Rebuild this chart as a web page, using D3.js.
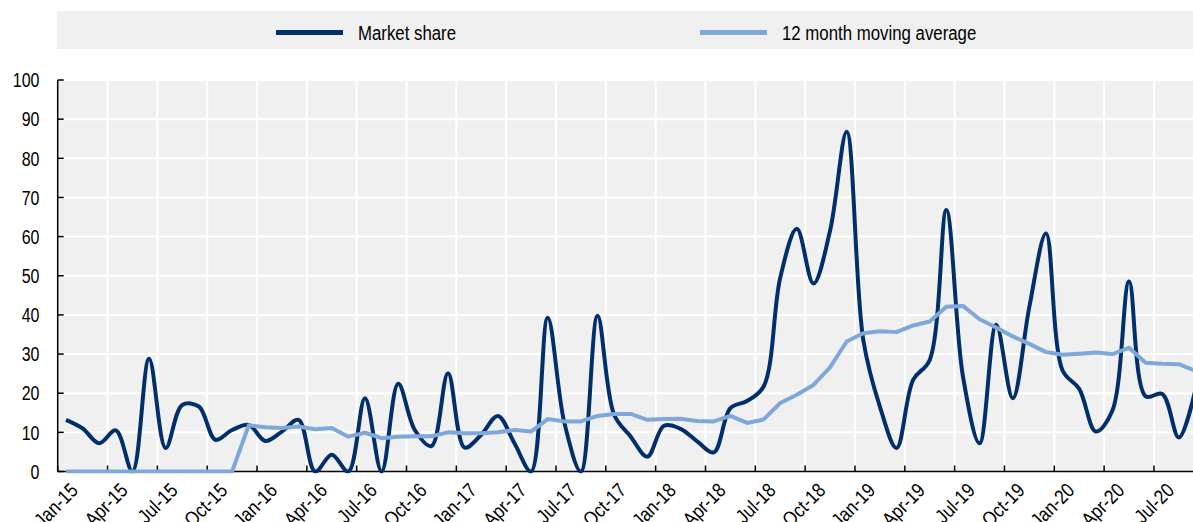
<!DOCTYPE html>
<html>
<head>
<meta charset="utf-8">
<script src="https://cdn.jsdelivr.net/npm/d3@7"></script>
<style>
  body { margin: 0; background: #fff; }
  svg { display: block; }
  text { font-family: "Liberation Sans Narrow", "Arial Narrow", "Liberation Sans", Arial, sans-serif; fill: #000; }
</style>
</head>
<body>
<div id="chart"></div>
<script>
// Monthly categories, Jan-15 to Sep-20
const months = d3.timeMonth.range(new Date(2015, 0, 1), new Date(2020, 9, 1));

// Market share (%)
const marketShare = [
  13.2, 11.0, 7.2, 10.5, 0, 28.8, 6.0, 17.0, 16.6, 8.1, 10.6, 11.9,
  7.8, 10.2, 13.2, 0, 4.3, 0, 18.7, 0, 22.4, 10.6, 6.5, 25.1,
  6.1, 9.4, 14.2, 7.2, 0, 39.3, 12.5, 0, 39.8, 14.5, 8.9, 3.8,
  11.7, 10.9, 7.7, 4.9, 16.2, 18.0, 21.7, 49.5, 62.0, 48.0, 61.5, 86.8,
  33.6, 16.6, 6.0, 23.4, 28.5, 66.8, 24.3, 7.2, 37.5, 18.7, 42.1, 60.8,
  25.8, 21.1, 10.2, 15.6, 48.5, 19.2, 19.8, 8.7, 21.0
];

// 12 month moving average (%)
const movingAvg = [
  0, 0, 0, 0, 0, 0, 0, 0, 0, 0, 0, 11.8,
  11.3, 11.1, 11.5, 10.8, 11.1, 8.9, 9.9, 8.5, 8.9, 9.0, 9.0, 10.0,
  9.8, 9.8, 10.0, 10.6, 10.2, 13.4, 12.8, 12.8, 14.2, 14.7, 14.7, 13.2,
  13.4, 13.5, 12.9, 12.8, 14.2, 12.4, 13.3, 17.5, 19.6, 22.1, 26.6, 33.2,
  35.3, 35.8, 35.6, 37.3, 38.3, 42.1, 42.3, 38.9, 36.8, 34.5, 32.6, 30.5,
  29.8, 30.1, 30.4, 30.0, 31.6, 27.8, 27.5, 27.4, 25.7
];

const yTicks = [0, 10, 20, 30, 40, 50, 60, 70, 80, 90, 100];
const seriesNames = ["Market share", "12 month moving average"];
const colors = ["#002F6C", "#7FA8D9"];

const width = 1193, height = 522;
const plotLeft = 57.7, plotTop = 80, plotBottom = 471.5;
const step = 16.61;

// squeeze text horizontally to mimic the narrow font of the original
function narrow(sel, k = 0.83) {
  sel.each(function() {
    const w = this.getComputedTextLength();
    d3.select(this)
      .attr("textLength", w * k)
      .attr("lengthAdjust", "spacingAndGlyphs");
  });
}

const svg = d3.select("#chart").append("svg")
  .attr("width", width)
  .attr("height", height);

// Legend band
svg.append("rect")
  .attr("x", 57).attr("y", 11)
  .attr("width", width - 57).attr("height", 38)
  .attr("fill", "#f0f0f0");

const legendX = [276, 700];
seriesNames.forEach((name, i) => {
  svg.append("line")
    .attr("x1", legendX[i]).attr("x2", legendX[i] + 67)
    .attr("y1", 32.5).attr("y2", 32.5)
    .attr("stroke", colors[i]).attr("stroke-width", 5);
  svg.append("text")
    .attr("x", legendX[i] + 82).attr("y", 39.5)
    .style("font-size", "20px")
    .text(name)
    .call(narrow, 0.84);
});

const x = d3.scaleBand()
  .domain(months)
  .range([plotLeft, plotLeft + months.length * step])
  .padding(0);

const y = d3.scaleLinear()
  .domain([0, 100])
  .range([plotBottom, plotTop]);

const cx = d => x(d) + x.bandwidth() / 2;

// Plot background
svg.append("rect")
  .attr("x", plotLeft).attr("y", plotTop)
  .attr("width", width - plotLeft).attr("height", plotBottom - plotTop)
  .attr("fill", "#f0f0f0");

const quarterMonths = months.filter(m => m.getMonth() % 3 === 0);

// Gridlines
svg.append("g")
  .selectAll("line")
  .data(yTicks.slice(1))
  .enter().append("line")
  .attr("x1", plotLeft).attr("x2", width)
  .attr("y1", d => y(d)).attr("y2", d => y(d))
  .attr("stroke", "#fff").attr("stroke-width", 2);

svg.append("g")
  .selectAll("line")
  .data(quarterMonths.slice(1))
  .enter().append("line")
  .attr("x1", d => x(d)).attr("x2", d => x(d))
  .attr("y1", plotTop).attr("y2", plotBottom)
  .attr("stroke", "#fff").attr("stroke-width", 2);

// Axes
const axisG = svg.append("g");
axisG.append("line")
  .attr("x1", plotLeft).attr("x2", plotLeft)
  .attr("y1", plotTop).attr("y2", plotBottom)
  .attr("stroke", "#000").attr("stroke-width", 1.5);
axisG.append("line")
  .attr("x1", plotLeft).attr("x2", width)
  .attr("y1", plotBottom).attr("y2", plotBottom)
  .attr("stroke", "#000").attr("stroke-width", 1.5);

axisG.append("g").selectAll("line")
  .data(yTicks)
  .enter().append("line")
  .attr("x1", plotLeft).attr("x2", plotLeft + 6)
  .attr("y1", d => y(d)).attr("y2", d => y(d))
  .attr("stroke", "#000").attr("stroke-width", 1.5);

axisG.append("g").selectAll("line")
  .data(quarterMonths)
  .enter().append("line")
  .attr("x1", d => x(d)).attr("x2", d => x(d))
  .attr("y1", plotBottom).attr("y2", plotBottom - 6)
  .attr("stroke", "#000").attr("stroke-width", 1.5);

axisG.append("g").selectAll("text")
  .data(yTicks)
  .enter().append("text")
  .attr("x", 39.5).attr("y", d => y(d))
  .attr("dy", "0.36em")
  .attr("text-anchor", "end")
  .style("font-size", "20px")
  .text(d => d)
  .call(narrow, 0.8);

const fmt = d3.timeFormat("%b-%y");
axisG.append("g").selectAll("text")
  .data(quarterMonths)
  .enter().append("text")
  .attr("text-anchor", "end")
  .attr("transform", d => `translate(${cx(d) + 3},${plotBottom + 10}) rotate(-45)`)
  .attr("dy", "0.72em")
  .style("font-size", "20px")
  .text(d => fmt(d))
  .call(narrow, 0.85);

// Lines
svg.append("clipPath").attr("id", "plotclip")
  .append("rect")
  .attr("x", plotLeft).attr("y", plotTop)
  .attr("width", width - plotLeft).attr("height", plotBottom - plotTop + 2);

const smooth = d3.line()
  .x((d, i) => cx(months[i]))
  .y(d => y(d))
  .curve(d3.curveCatmullRom.alpha(0.5));

const straight = d3.line()
  .x((d, i) => cx(months[i]))
  .y(d => y(d));

const lines = svg.append("g").attr("clip-path", "url(#plotclip)");

lines.append("path")
  .datum(marketShare)
  .attr("fill", "none")
  .attr("stroke", colors[0])
  .attr("stroke-width", 4)
  .attr("stroke-linejoin", "round")
  .attr("d", smooth);

lines.append("path")
  .datum(movingAvg)
  .attr("fill", "none")
  .attr("stroke", colors[1])
  .attr("stroke-width", 4)
  .attr("stroke-linejoin", "round")
  .attr("d", straight);
</script>
</body>
</html>
